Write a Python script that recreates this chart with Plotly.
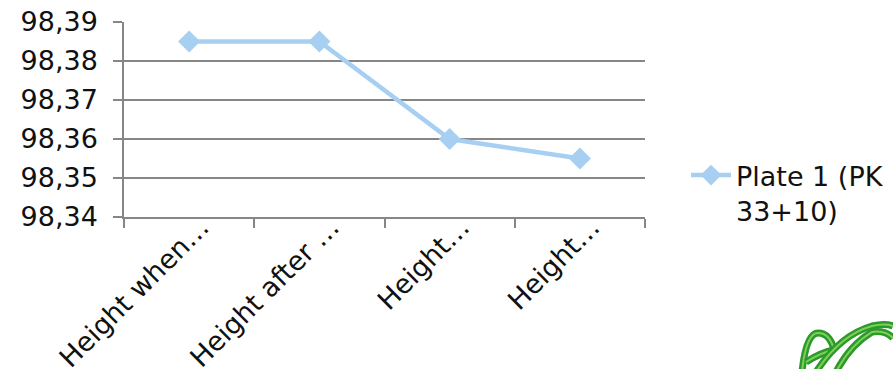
import plotly.graph_objects as go

categories = ["Height when…", "Height after …", "Height…", "Height…"]
values = [98.385, 98.385, 98.360, 98.355]
series_name = "Plate 1 (PK<br>33+10)"
y_ticks = [98.34, 98.35, 98.36, 98.37, 98.38, 98.39]

W, H = 893, 369
ML, MR, MT, MB = 124, 248, 22, 152
PW, PH = W - ML - MR, H - MT - MB

def px(x, y):
    return (x - ML) / PW, (H - MB - y) / PH

n = len(categories)
fig = go.Figure()
fig.add_trace(go.Scatter(
    x=list(range(n)), y=values, name=series_name,
    mode="lines+markers",
    line=dict(color="#a6cff1", width=4.5),
    marker=dict(symbol="diamond", size=17, color="#a6cff1"),
))

font = "DejaVu Sans, Verdana, sans-serif"
FS = 27

# decorative logo fragment (bottom-right)
def path(points):
    pts = [px(a, b) for a, b in points]
    d = "M %f %f" % pts[0]
    i = 1
    while i + 1 < len(pts):
        d += " Q %f %f %f %f" % (pts[i] + pts[i + 1])
        i += 2
    return d

logo_paths = [
    [(802, 372), (806, 333), (818, 333), (830, 333), (834, 350)],
    [(806, 362), (822, 352), (834, 350)],
    [(816, 372), (840, 335), (872, 326), (885, 323), (893, 326)],
    [(836, 372), (850, 345), (872, 332), (885, 330), (893, 338)],
]
shapes = []
for pth in logo_paths:
    shapes.append(dict(type="path", xref="paper", yref="paper", path=path(pth),
                       line=dict(color="#2b9a2b", width=7)))
    shapes.append(dict(type="path", xref="paper", yref="paper", path=path(pth),
                       line=dict(color="#7fd05a", width=2)))

bounds = [i - 0.5 for i in range(n + 1)]

fig.update_layout(
    width=W, height=H,
    margin=dict(l=ML, r=MR, t=MT, b=MB, pad=0, autoexpand=False),
    paper_bgcolor="white", plot_bgcolor="white",
    separators=",.",
    font=dict(family=font, size=FS, color="#111111"),
    showlegend=True,
    legend=dict(xref="container", yref="container", x=686 / W, y=1 - 151 / H,
                xanchor="left", yanchor="top",
                font=dict(size=FS, family=font), itemwidth=40, bgcolor="rgba(0,0,0,0)",
                valign="top", tracegroupgap=0),
    xaxis=dict(
        tickmode="array", tickvals=list(range(n)), ticktext=categories,
        range=[-0.5, n - 0.5], automargin=False,
        showgrid=False, zeroline=False, showline=True, linecolor="#868686", linewidth=1.5,
        ticks="outside", ticklen=0, tickcolor="rgba(0,0,0,0)",
        minor=dict(tickvals=bounds, ticks="outside", ticklen=9, tickcolor="#868686",
                   tickwidth=1.5, showgrid=False),
        tickangle=-45, tickfont=dict(size=FS, family=font), ticklabelshift=12,
        ticklabelstandoff=-18,
    ),
    yaxis=dict(
        range=[98.34, 98.39], tickvals=y_ticks, tickformat=".2f", automargin=False,
        showgrid=True, gridcolor="#868686", gridwidth=1.5,
        zeroline=False, showline=True, linecolor="#868686", linewidth=1.5,
        ticks="outside", ticklen=9, tickcolor="#868686", tickwidth=1.5,
        tickfont=dict(size=FS, family=font), ticklabelstandoff=10,
    ),
    shapes=shapes,
)

fig.write_html("out.html")
